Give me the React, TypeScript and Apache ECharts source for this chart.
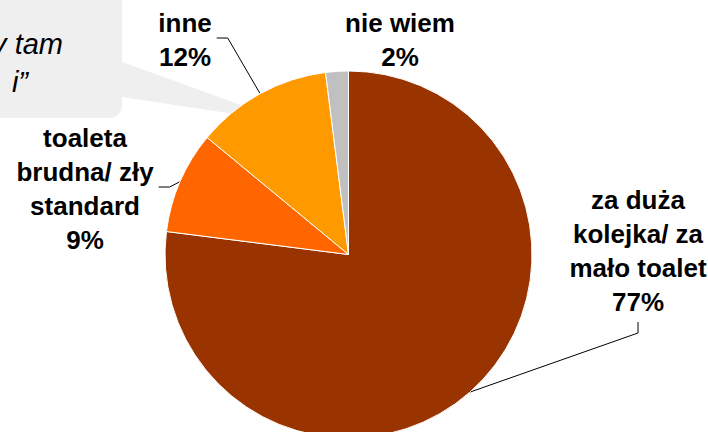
import React, { useEffect, useRef } from "react";
import * as echarts from "echarts";

const categories = [
  "za duża\nkolejka/ za\nmało toalet",
  "toaleta\nbrudna/ zły\nstandard",
  "inne",
  "nie wiem",
];
const values = [77, 9, 12, 2];
const colors = ["#993300", "#FF6600", "#FF9900", "#C0C0C0"];
const calloutLines = ["y tam", "i”"];

// label centres (layout only)
const labelCenters: [number, number][] = [
  [638, 251],
  [85, 189],
  [185, 40],
  [400, 40],
];

export default function App() {
  const ref = useRef<HTMLDivElement>(null);
  useEffect(() => {
    document.body.style.margin = "0";
    const chart = echarts.init(ref.current!, undefined, { renderer: "svg" });
    const font = "Arial, 'Liberation Sans', sans-serif";
    chart.setOption({
      animation: false,
      backgroundColor: "#ffffff",
      series: [
        {
          type: "pie",
          center: [348.5, 254.5],
          radius: [0, 183.5],
          startAngle: 90,
          clockwise: true,
          silent: true,
          itemStyle: { borderColor: "#ffffff", borderWidth: 1 },
          label: {
            show: true,
            position: "outside",
            formatter: "{b}\n{c}%",
            fontFamily: font,
            fontWeight: "bold",
            fontSize: 26,
            lineHeight: 34,
            color: "#000000",
            align: "center",
            overflow: "none",
            edgeDistance: 0,
          },
          labelLine: {
            show: true,
            length: 10,
            length2: 10,
            lineStyle: { color: "#000000", width: 1 },
          },
          labelLayout: (params: any) => {
            const i = params.dataIndex;
            const [x, y] = labelCenters[i];
            const w = params.labelRect.width;
            const h = params.labelRect.height;
            const res: any = { x, y, align: "center", verticalAlign: "middle" };
            const p0 = params.labelLinePoints ? params.labelLinePoints[0] : null;
            if (p0) {
              if (i === 0) {
                const b = y + h / 2;
                res.labelLinePoints = [p0, [x, b + 14], [x, b + 3]];
              } else if (i === 1 || i === 2) {
                const r = x + w / 2;
                res.labelLinePoints = [p0, [r + 16, y - 2], [r + 5, y - 2]];
              }
            }
            return res;
          },
          data: categories.map((name, i) => ({
            name,
            value: values[i],
            itemStyle: { color: colors[i] },
            labelLine: { show: i !== 3 },
          })),
        },
      ],
      graphic: [
        {
          type: "group",
          z: 100,
          children: [
            {
              type: "rect",
              shape: { x: -30, y: -30, width: 152, height: 148, r: 13 },
              style: { fill: "rgba(225,225,225,0.55)" },
            },
            {
              type: "polygon",
              shape: { points: [[122, 62], [288, 122], [122, 97]] },
              style: { fill: "rgba(225,225,225,0.55)" },
            },
            {
              type: "text",
              style: {
                text: calloutLines[0],
                x: 63,
                y: 44,
                align: "right",
                verticalAlign: "middle",
                fontFamily: font,
                fontStyle: "italic",
                fontSize: 29,
                fill: "#000000",
              },
            },
            {
              type: "text",
              style: {
                text: calloutLines[1],
                x: 28,
                y: 82,
                align: "right",
                verticalAlign: "middle",
                fontFamily: font,
                fontStyle: "italic",
                fontSize: 29,
                fill: "#000000",
              },
            },
          ],
        },
      ],
    });
    return () => chart.dispose();
  }, []);
  return <div ref={ref} style={{ width: 708, height: 432 }} />;
}
